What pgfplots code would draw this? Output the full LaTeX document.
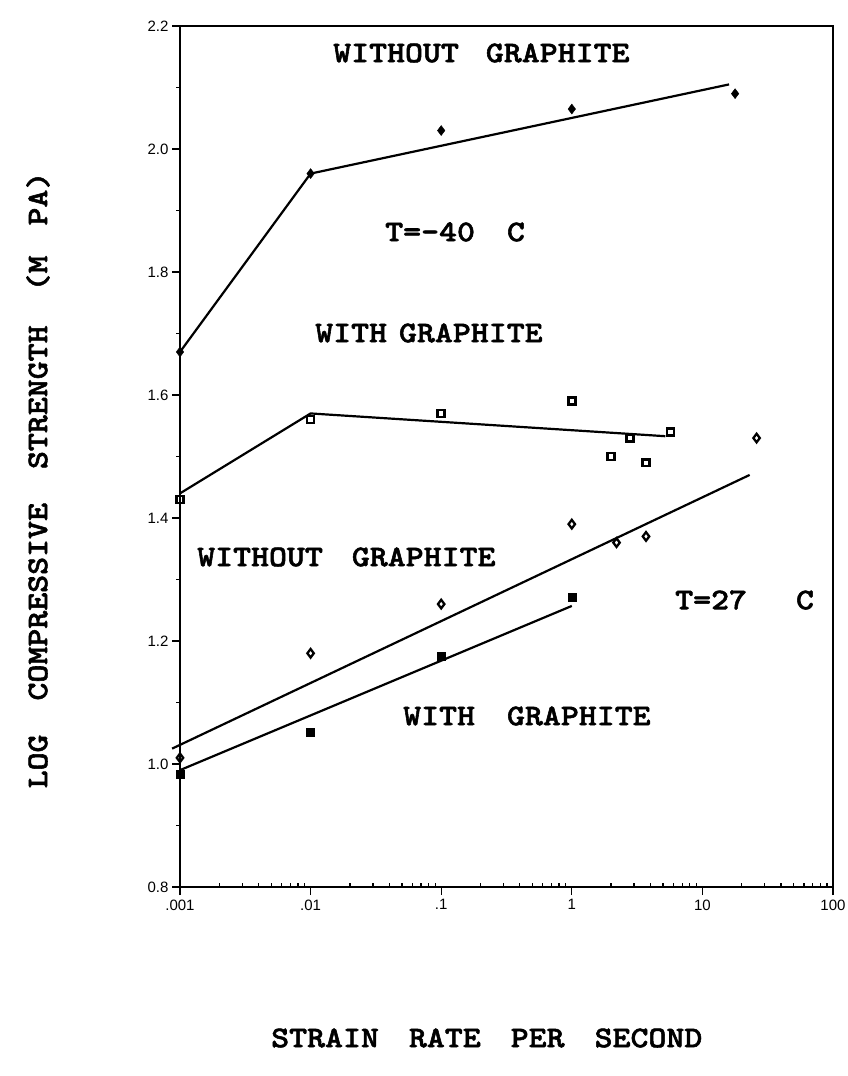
\documentclass[border=0pt]{standalone}
\usepackage{fontspec}
\usepackage{pgfplots}
\pgfplotsset{compat=1.18}
\newfontfamily\tickfont{Liberation Sans}
\newfontfamily\cour{lmmonolt10-bold.otf}[FakeStretch=1.14, FakeBold=1.8]
\begin{document}
\begin{tikzpicture}
\path[use as bounding box] (-180pt,-189pt) rectangle (667pt,887pt);
\begin{axis}[
  at={(0pt,0pt)}, anchor=south west,
  scale only axis, width=653pt, height=861pt,
  xmode=log, xmin=0.001, xmax=100, ymin=0.8, ymax=2.2,
  clip=false,
  axis line style={line width=1.6pt},
  xtick={0.001,0.01,0.1,1,10,100},
  xticklabels={.001,.01,.1,1,10,100},
  minor xtick={0.002,0.003,0.004,0.005,0.006,0.007,0.008,0.009,
               0.02,0.03,0.04,0.05,0.06,0.07,0.08,0.09,
               0.2,0.3,0.4,0.5,0.6,0.7,0.8,0.9,
               2,3,4,5,6,7,8,9,20,30,40,50,60,70,80,90},
  ytick={0.8,1.0,1.2,1.4,1.6,1.8,2.0,2.2},
  yticklabels={0.8,1.0,1.2,1.4,1.6,1.8,2.0,2.2},
  minor ytick={0.9,1.1,1.3,1.5,1.7,1.9,2.1},
  xtick pos=bottom, ytick pos=left,
  tick align=outside,
  major tick length=8pt, minor tick length=4pt,
  tick style={line width=1.3pt, black},
  minor x tick style={yshift=4pt},
  ticklabel style={font=\tickfont\fontsize{15}{17}\selectfont},
  xticklabel style={yshift=-1pt},
]
% T=-40 C, without graphite
\addplot[only marks, mark=diamond*, mark size=5pt, black] coordinates {
 (0.001,1.67) (0.01,1.96) (0.1,2.03) (1,2.065) (17.8,2.09)};
\addplot[line width=2.2pt, black] coordinates {(0.001,1.67) (0.01,1.96) (16,2.105)};
% T=-40 C, with graphite
\addplot[only marks, mark=square, mark size=3.4pt, black, mark options={line width=2.6pt}] coordinates {
 (0.001,1.43) (0.01,1.56) (0.1,1.57) (1,1.59) (2.0,1.50) (2.8,1.53) (3.7,1.49) (5.7,1.54)};
\addplot[line width=2.2pt, black] coordinates {(0.001,1.44) (0.01,1.57) (5.2,1.533)};
% T=27 C, without graphite
\addplot[only marks, mark=diamond, mark size=4.3pt, black, mark options={line width=2.3pt}] coordinates {
 (0.001,1.01) (0.01,1.18) (0.1,1.26) (1,1.39) (2.2,1.36) (3.7,1.37) (26,1.53)};
\addplot[line width=2.2pt, black] coordinates {(0.00087,1.025) (23,1.47)};
% T=27 C, with graphite
\addplot[only marks, mark=square*, mark size=4pt, black] coordinates {
 (0.001,0.984) (0.01,1.051) (0.1,1.175) (1,1.272)};
\addplot[line width=2.2pt, black] coordinates {(0.001,0.99) (1,1.257)};
\end{axis}
\begin{scope}[every node/.style={inner sep=0pt, font=\cour\fontsize{30}{32}\selectfont}]
\node[anchor=west] at (153pt,834pt) {WITHOUT\hspace{27pt}GRAPHITE};
\node[anchor=west] at (205pt,655pt) {T=-40\hspace{32pt}C};
\node[anchor=west] at (135pt,554pt) {WITH\hspace{12pt}GRAPHITE};
\node[anchor=west] at (17pt,330pt) {WITHOUT\hspace{29pt}GRAPHITE};
\node[anchor=west] at (495pt,287pt) {T=27\hspace{49pt}C};
\node[anchor=west] at (223pt,171pt) {WITH\hspace{32pt}GRAPHITE};
\node[anchor=west] at (91pt,-151pt) {STRAIN\hspace{30pt}RATE\hspace{30pt}PER\hspace{30pt}SECOND};
\node[rotate=90] at (-142pt,407pt) {LOG\hspace{34pt}COMPRESSIVE\hspace{34pt}STRENGTH\hspace{34pt}(M\hspace{30pt}PA)};
\end{scope}
\end{tikzpicture}
\end{document}
